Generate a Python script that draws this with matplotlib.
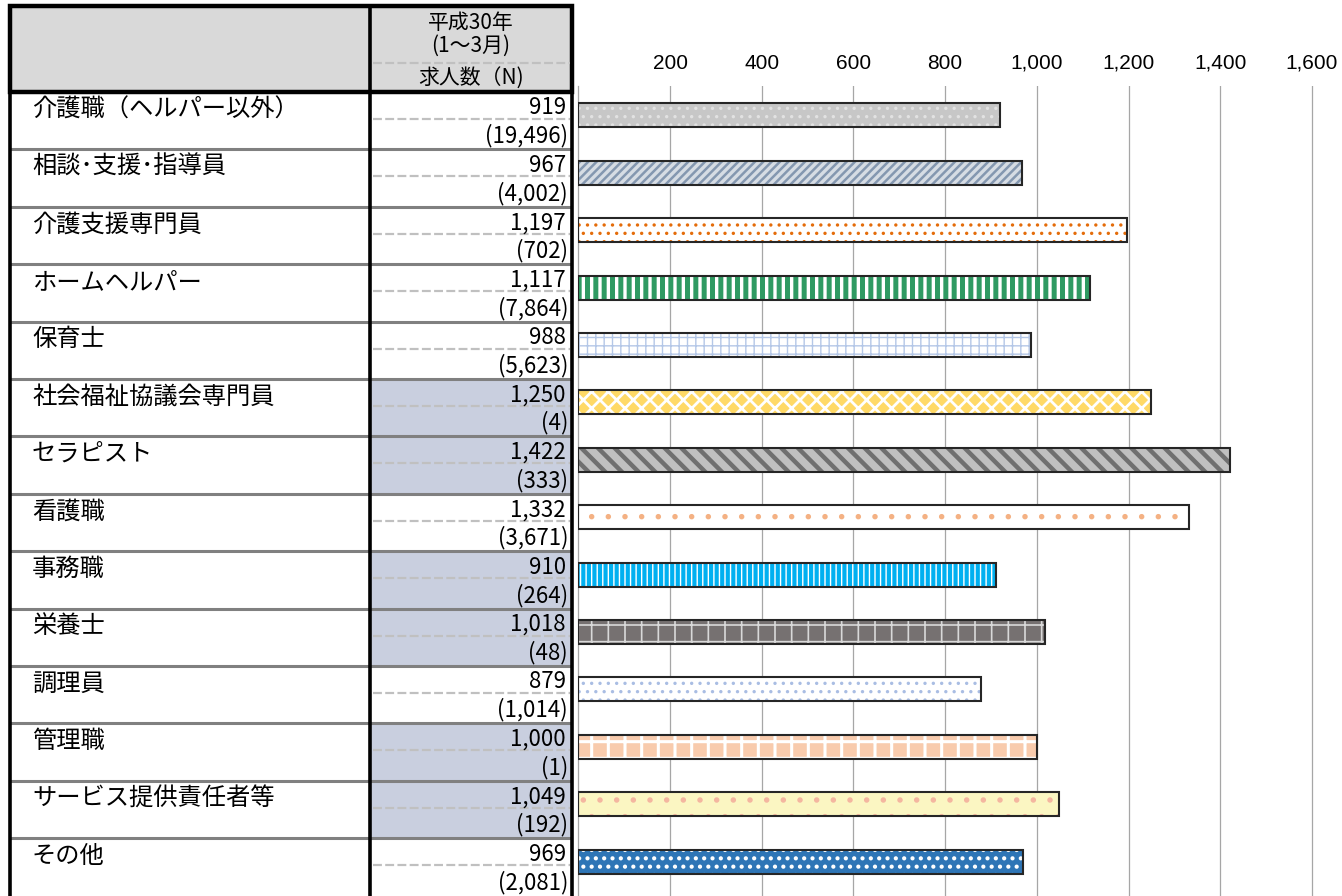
import matplotlib
matplotlib.use("Agg")
import matplotlib.pyplot as plt
from matplotlib.patches import Rectangle
from matplotlib.ticker import FuncFormatter

plt.rcParams['font.family'] = ['Noto Sans CJK JP', 'DejaVu Sans']

# data
categories = ["介護職（ヘルパー以外）", "相談･支援･指導員", "介護支援専門員", "ホームヘルパー",
              "保育士", "社会福祉協議会専門員", "セラピスト", "看護職", "事務職", "栄養士",
              "調理員", "管理職", "サービス提供責任者等", "その他"]
values = [919, 967, 1197, 1117, 988, 1250, 1422, 1332, 910, 1018, 879, 1000, 1049, 969]
counts = [19496, 4002, 702, 7864, 5623, 4, 333, 3671, 264, 48, 1014, 1, 192, 2081]
highlight = [0, 0, 0, 0, 0, 1, 1, 0, 1, 1, 0, 1, 1, 0]
xticks = [200, 400, 600, 800, 1000, 1200, 1400, 1600]

# bar looks
face_cols = ['#c7c7c7', '#d6dce4', '#ffffff', '#ffffff', '#ffffff', '#ffd966', '#c0c0c0',
             '#ffffff', '#00b0f0', '#767171', '#ffffff', '#f8cbad', '#fbf6c2', '#2e75b6']
hatches = ['..', '////', '..', '||', '++', 'xx', '\\\\', '.', '|||', '+', '..', '+', '.', '..']
hatch_cols = ['#e2e2e2', '#8497b0', '#e46c0a', '#2f9a62', '#b4c7e7', '#ffffff', '#707070',
              '#f4b183', '#ffffff', '#d9d9d9', '#a9bde3', '#ffffff', '#f4b6a0', '#ffffff']
hatch_lw = [1.2, 1.8, 1.2, 3.6, 1.0, 2.0, 3.2, 1.5, 1.0, 1.2, 1.2, 2.2, 1.5, 1.8]

W, H = 1342, 896
fig = plt.figure(figsize=(W / 100, H / 100), dpi=100)

# ---- table on the left, in pixel coords ----
tab = fig.add_axes([0, 0, 1, 1])
tab.set_xlim(0, W)
tab.set_ylim(H, 0)
tab.axis('off')

y0 = 92      # top of first row
rh = 57.4    # row height
xl, xm, xr = 10, 370, 572

tab.add_patch(Rectangle((xl, 6), xr - xl, y0 - 6, facecolor='#d9d9d9', edgecolor='none'))
for i in range(len(categories)):
    top = y0 + i * rh
    if highlight[i]:
        tab.add_patch(Rectangle((xm, top), xr - xm, rh, facecolor='#c9cfdf', edgecolor='none'))
    if i > 0:
        tab.plot([xl, xr], [top, top], color='#808080', lw=2.2, solid_capstyle='butt')
    tab.plot([xm + 3, xr - 2], [top + 27, top + 27], color='#c0c0c0', lw=1.6,
             dashes=(4, 1.5))
    tab.text(32, top + 17.5, categories[i], fontsize=17.5, ha='left', va='center')
    tab.text(566, top + 16, f"{values[i]:,}", fontsize=16, ha='right', va='center')
    tab.text(568, top + 44, f"({counts[i]:,})", fontsize=16, ha='right', va='center')

# header
tab.plot([xm + 3, xr - 2], [63, 63], color='#c0c0c0', lw=1.6, dashes=(4, 1.5))
hx = (xm + xr) / 2
tab.text(hx, 23, "平成30年", fontsize=15, ha='center', va='center')
tab.text(hx, 46, "(1～3月)", fontsize=15, ha='center', va='center')
tab.text(hx, 79, "求人数（N)", fontsize=15, ha='center', va='center')

# thick black borders
tab.add_patch(Rectangle((xl, 6), xr - xl, y0 - 6, facecolor='none', edgecolor='black', lw=3.2))
for x in (xl, xm, xr):
    tab.plot([x, x], [6, H], color='black', lw=2.6, solid_capstyle='butt')

# ---- bar chart ----
x0px = 578.3
pxu = 0.4585
ax_top = 86
ax = fig.add_axes([x0px / W, 0, (W - x0px) / W, (H - ax_top) / H])
ax.set_facecolor('none')
ax.set_xlim(0, (W - x0px) / pxu)
ax.set_ylim((H - y0) / rh, -(y0 - ax_top) / rh)

ypos = [i + 23.5 / rh for i in range(len(categories))]
bh = 24 / rh

ax.barh(ypos, values, height=bh, color=face_cols, edgecolor='none', zorder=2)
hb = ax.barh(ypos, values, height=bh, color='none', edgecolor=hatch_cols, linewidth=0, zorder=3)
for p, h, lw in zip(hb, hatches, hatch_lw):
    p.set_hatch(h)
    try:
        p.set_hatch_linewidth(lw)
    except AttributeError:
        pass
ax.barh(ypos, values, height=bh, color='none', edgecolor='#262626', linewidth=1.5, zorder=4)

ax.set_xticks(xticks)
ax.xaxis.tick_top()
ax.xaxis.set_major_formatter(FuncFormatter(lambda v, p: f"{int(v):,}"))
ax.tick_params(axis='x', length=0, pad=9.5, labelsize=15)
for lab in ax.get_xticklabels():
    lab.set_family(['Liberation Sans', 'DejaVu Sans'])
ax.set_yticks([])
ax.grid(axis='x', color='#a6a6a6', lw=0.9)
ax.set_axisbelow(True)
for s in ('top', 'right', 'bottom'):
    ax.spines[s].set_visible(False)
ax.spines['left'].set_color('#a6a6a6')
ax.spines['left'].set_linewidth(0.9)

fig.savefig("out.png", dpi=100)
